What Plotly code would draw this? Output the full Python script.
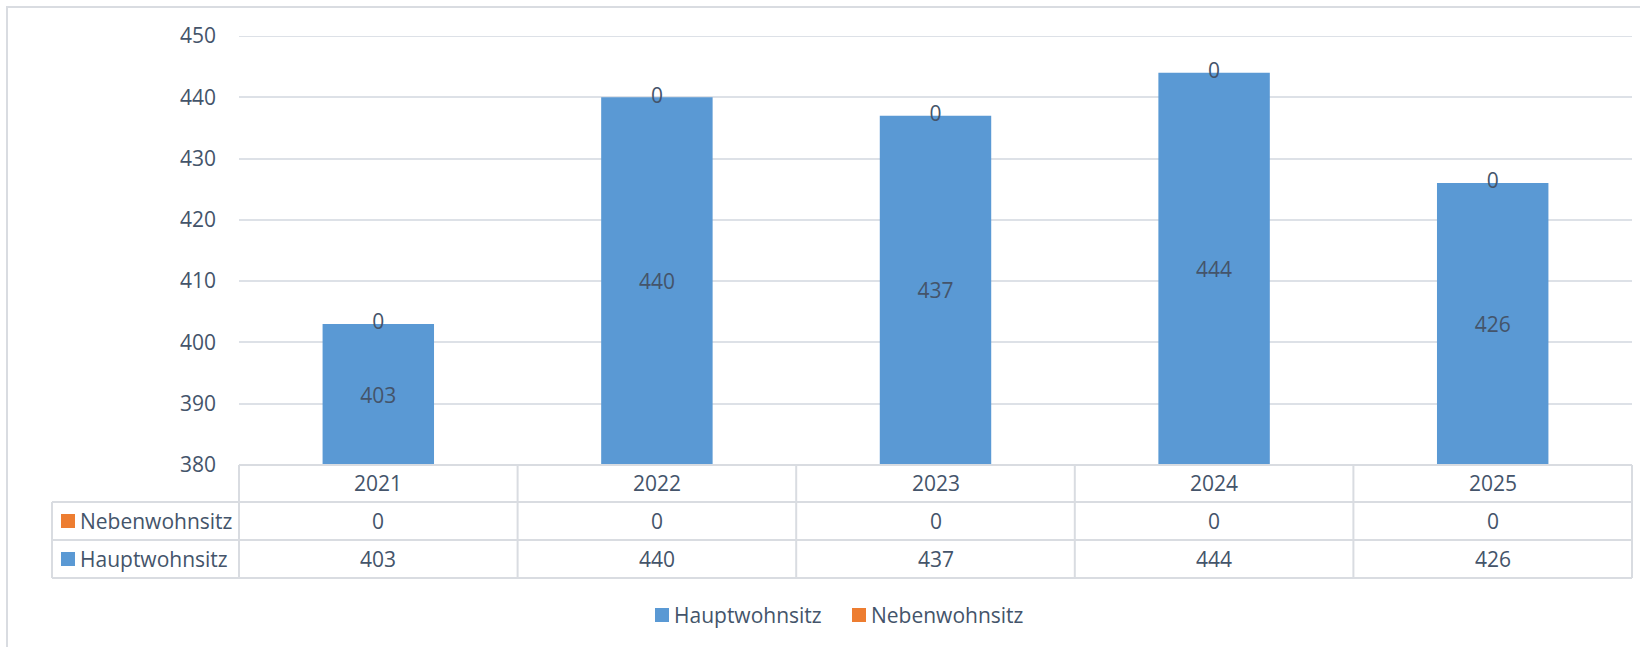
import plotly.graph_objects as go

# ---- data ----
years = ["2021", "2022", "2023", "2024", "2025"]
hauptwohnsitz = [403, 440, 437, 444, 426]
nebenwohnsitz = [0, 0, 0, 0, 0]
series_names = ["Hauptwohnsitz", "Nebenwohnsitz"]
y_ticks = [380, 390, 400, 410, 420, 430, 440, 450]

Y_MIN, Y_MAX = 380, 450

# ---- layout geometry (pixels) ----
W, H = 1640, 647
L, R, T, B = 239, 1632, 36, 465
PW, PH = R - L, B - T

def xp(px):
    return (px - L) / PW

def yp(py):
    return (B - py) / PH

TEXT = "#44546A"
GRID = "#DDE1E7"
BORDER = "#D9DCE1"
BLUE = "#5A99D4"
ORANGE = "#ED7D31"
FONT = "Open Sans"
FS = 21

fig = go.Figure()

fig.add_trace(go.Bar(
    name=series_names[0], x=years,
    y=[v - Y_MIN for v in hauptwohnsitz], base=Y_MIN,
    text=[str(v) for v in hauptwohnsitz], textposition="inside",
    insidetextanchor="middle", textangle=0,
    textfont=dict(family=FONT, size=FS, color=TEXT),
    marker=dict(color=BLUE, line=dict(width=0)), width=0.4,
    showlegend=False,
))
fig.add_trace(go.Bar(
    name=series_names[1], x=years, y=nebenwohnsitz, base=hauptwohnsitz,
    marker=dict(color=ORANGE, line=dict(width=0)), width=0.4,
    showlegend=False,
))
fig.add_trace(go.Scatter(
    x=years, y=[h + n for h, n in zip(hauptwohnsitz, nebenwohnsitz)],
    text=[str(v) for v in nebenwohnsitz], mode="text",
    textposition="middle center",
    textfont=dict(family=FONT, size=FS, color=TEXT),
    showlegend=False, hoverinfo="skip", cliponaxis=False,
))

shapes = []
annotations = []

# outer chart border
shapes.append(dict(type="rect", xref="paper", yref="paper",
                   x0=xp(7), x1=xp(1660), y0=yp(7), y1=yp(680),
                   line=dict(color=BORDER, width=2), layer="below"))
# top gridline (plotly clips gridlines at the range ends)
shapes.append(dict(type="line", xref="paper", yref="y", x0=0, x1=1, y0=Y_MAX, y1=Y_MAX,
                   line=dict(color=GRID, width=2), layer="below"))

# data table
row_y = [465, 502, 540, 578]
table_left = 52
n = len(years)
col_w = PW / n
line_style = dict(color=BORDER, width=2)
shapes.append(dict(type="line", xref="paper", yref="paper",
                   x0=xp(L), x1=xp(R), y0=yp(row_y[0]), y1=yp(row_y[0]), line=line_style))
for ry in row_y[1:]:
    shapes.append(dict(type="line", xref="paper", yref="paper",
                       x0=xp(table_left), x1=xp(R), y0=yp(ry), y1=yp(ry), line=line_style))
shapes.append(dict(type="line", xref="paper", yref="paper",
                   x0=xp(table_left), x1=xp(table_left), y0=yp(row_y[1]), y1=yp(row_y[3]), line=line_style))
for k in range(n + 1):
    xx = L + k * col_w
    shapes.append(dict(type="line", xref="paper", yref="paper",
                       x0=xp(xx), x1=xp(xx), y0=yp(row_y[0]), y1=yp(row_y[3]), line=line_style))

def row_center(i):
    return (row_y[i] + row_y[i + 1]) / 2

# header row: years
for i, yr in enumerate(years):
    annotations.append(dict(xref="x", yref="paper", x=i, y=yp(row_center(0)),
                            text=yr, showarrow=False, xanchor="center", yanchor="middle",
                            font=dict(family=FONT, size=FS, color=TEXT)))

table_rows = [(series_names[1], nebenwohnsitz, ORANGE), (series_names[0], hauptwohnsitz, BLUE)]
for r, (name, vals, col) in enumerate(table_rows, start=1):
    cy = row_center(r)
    shapes.append(dict(type="rect", xref="paper", yref="paper",
                       x0=xp(61), x1=xp(75), y0=yp(cy - 7), y1=yp(cy + 7),
                       fillcolor=col, line=dict(width=0)))
    annotations.append(dict(xref="paper", yref="paper", x=xp(78), y=yp(cy),
                            text=name, showarrow=False, xanchor="left", yanchor="middle",
                            font=dict(family=FONT, size=FS, color=TEXT)))
    for i, v in enumerate(vals):
        annotations.append(dict(xref="x", yref="paper", x=i, y=yp(cy),
                                text=str(v), showarrow=False, xanchor="center", yanchor="middle",
                                font=dict(family=FONT, size=FS, color=TEXT)))

# bottom legend (drawn as swatches + text to match spacing)
legend_items = [(series_names[0], BLUE, 655), (series_names[1], ORANGE, 852)]
LEG_Y = 615
for name, col, x0 in legend_items:
    shapes.append(dict(type="rect", xref="paper", yref="paper",
                       x0=xp(x0), x1=xp(x0 + 14), y0=yp(LEG_Y - 7), y1=yp(LEG_Y + 7),
                       fillcolor=col, line=dict(width=0)))
    annotations.append(dict(xref="paper", yref="paper", x=xp(x0 + 17), y=yp(LEG_Y),
                            text=name, showarrow=False, xanchor="left", yanchor="middle",
                            font=dict(family=FONT, size=FS, color=TEXT)))

fig.update_layout(
    width=W, height=H,
    margin=dict(l=L, r=W - R, t=T, b=H - B, pad=0),
    paper_bgcolor="white", plot_bgcolor="white",
    barmode="overlay",
    font=dict(family=FONT, size=FS, color=TEXT),
    showlegend=False,
    shapes=shapes, annotations=annotations,
    xaxis=dict(type="category", categoryorder="array", categoryarray=years,
               range=[-0.5, n - 0.5], showticklabels=False, showgrid=False, zeroline=False,
               showline=False, ticks=""),
    yaxis=dict(range=[Y_MIN, Y_MAX], tickvals=y_ticks, ticktext=[str(t) for t in y_ticks],
               showgrid=True, gridcolor=GRID, gridwidth=2, zeroline=False, showline=False,
               ticks="", ticklabelstandoff=22,
               tickfont=dict(family=FONT, size=FS, color=TEXT)),
)

fig.write_html("out.html", config={"displayModeBar": False},
               post_script="document.body.style.margin='0px';document.body.style.overflow='hidden';")
